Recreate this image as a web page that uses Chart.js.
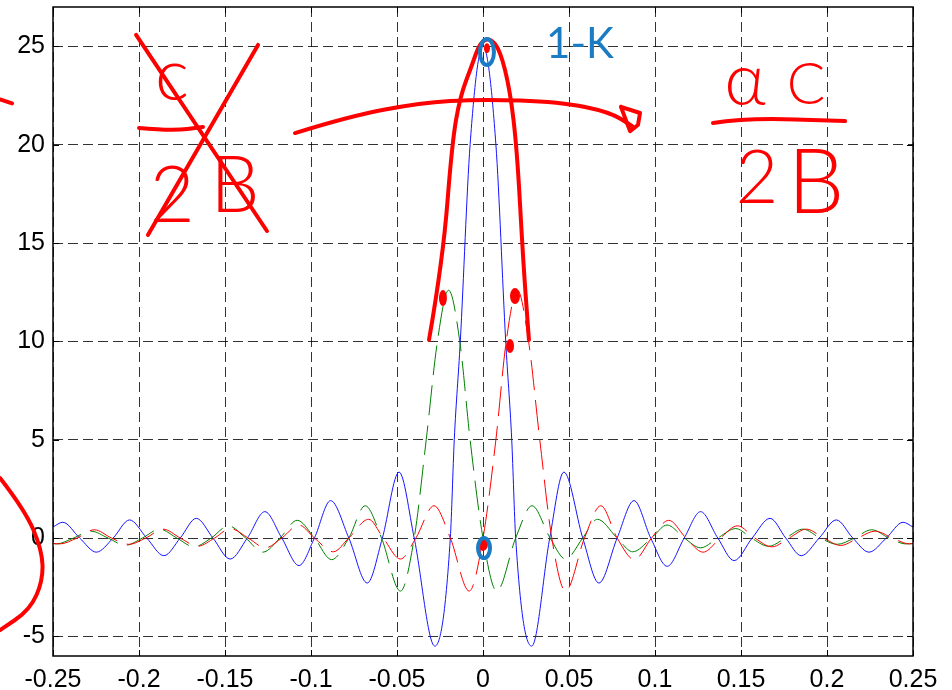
<!DOCTYPE html>
<html>
<head>
<meta charset="utf-8">
<script src="https://cdn.jsdelivr.net/npm/chart.js@4.4.1/dist/chart.umd.min.js"></script>
<style>
html, body { margin: 0; padding: 0; background: #fff; }
</style>
</head>
<body>
<canvas id="myChart" width="952" height="690"></canvas>
<script>
// tick positions
const xTicks = [-0.25, -0.2, -0.15, -0.1, -0.05, 0, 0.05, 0.1, 0.15, 0.2, 0.25];
const yTicks = [-5, 0, 5, 10, 15, 20, 25];

// blue solid curve
const blueX = [-0.25, -0.2443, -0.2345, -0.2248, -0.215, -0.2055, -0.1955, -0.1855, -0.176, -0.1667,
    -0.157, -0.147, -0.137, -0.1268, -0.117, -0.107, -0.098, -0.0886, -0.078, -0.0673,
    -0.0585, -0.0488, -0.04, -0.028, -0.019, -0.0167, -0.0132, -0.0075, 0,
    0.0075, 0.0132, 0.0167, 0.019, 0.0283, 0.0388, 0.047, 0.058, 0.0674, 0.078,
    0.0878, 0.0975, 0.1071, 0.117, 0.1265, 0.1365, 0.146, 0.1565, 0.1669, 0.176,
    0.185, 0.1955, 0.2054, 0.215, 0.2244, 0.2345, 0.2442, 0.25];
const blueY = [0.56, 0.8, 0, -0.72, 0, 0.92, 0, -0.9, 0, 1.0,
    0, -1.07, 0, 1.34, 0, -1.4, 0, 1.9, 0, -2.29,
    0, 3.35, 0, -5.5, 0, 5, 10, 20, 25,
    20, 10, 5, 0, -5.5, 0, 3.35, 0, -2.29, 0,
    1.9, 0, -1.44, 0, 1.34, 0, -1.15, 0, 1.0, 0,
    -0.9, 0, 0.92, 0, -0.72, 0, 0.8, 0.56];

// green dashed curve
const greenX = [-0.25, -0.248, -0.238, -0.228, -0.218, -0.208, -0.198, -0.188, -0.178, -0.168,
    -0.158, -0.148, -0.138, -0.128, -0.118, -0.108, -0.098, -0.088, -0.078, -0.0685,
    -0.059, -0.048, -0.04, -0.033, -0.0265, -0.02, -0.0135, -0.0075, 0, 0.008,
    0.019, 0.0285, 0.039, 0.048, 0.058, 0.0665, 0.078, 0.087, 0.098, 0.107,
    0.117, 0.1265, 0.1365, 0.147, 0.156, 0.166, 0.176, 0.186, 0.196, 0.206,
    0.216, 0.226, 0.236, 0.246, 0.25];
const greenY = [-0.28, -0.3, 0, 0.35, 0, -0.38, 0, 0.45, 0, -0.45,
    0, 0.62, 0, -0.72, 0, 0.9, 0, -1.1, 0, 1.64,
    0, -2.7, 0, 5, 10, 12.6, 10, 5, 0, -2.7,
    0, 1.64, 0, -1.07, 0, 0.95, 0, -0.7, 0, 0.66,
    0, -0.5, 0, 0.48, 0, -0.42, 0, 0.45, 0, -0.32,
    0, 0.42, 0, -0.3, -0.28];

// red dashed curve
const redX = [-0.25, -0.246, -0.236, -0.226, -0.216, -0.206, -0.196, -0.186, -0.176, -0.166,
    -0.156, -0.147, -0.1365, -0.1265, -0.117, -0.107, -0.098, -0.087, -0.078, -0.0665,
    -0.058, -0.048, -0.039, -0.0285, -0.019, -0.008, 0, 0.0075, 0.0135, 0.02,
    0.0265, 0.033, 0.04, 0.048, 0.059, 0.0685, 0.078, 0.088, 0.098, 0.108,
    0.118, 0.128, 0.138, 0.148, 0.158, 0.168, 0.178, 0.188, 0.198, 0.208,
    0.218, 0.228, 0.238, 0.248, 0.25];
const redY = [-0.28, -0.3, 0, 0.42, 0, -0.32, 0, 0.45, 0, -0.42,
    0, 0.48, 0, -0.5, 0, 0.66, 0, -0.7, 0, 0.95,
    0, -1.07, 0, 1.64, 0, -2.7, 0, 5, 10, 12.6,
    10, 5, 0, -2.7, 0, 1.64, 0, -1.1, 0, 0.9,
    0, -0.72, 0, 0.62, 0, -0.45, 0, 0.45, 0, -0.38,
    0, 0.35, 0, -0.3, -0.28];

// hand-drawn ink, in data units
const inkEnvelope = [[-0.0314, 10.07], [-0.0233, 14.14], [-0.018, 20.08], [-0.0134, 22.42], [-0.0064, 24.05],
    [-0.0017, 25.22], [0.0041, 25.42], [0.0099, 24.81], [0.0157, 22.78], [0.0198, 19.73], [0.0233, 14.14], [0.0267, 10.07]];
const inkArrow = [[-0.1093, 20.59], [-0.0773, 21.46], [-0.0366, 22.12], [-0.0017, 22.32], [0.0448, 22.17], [0.0738, 21.66], [0.0866, 20.95]];
const inkArrowHead = [[0.0802, 21.92], [0.0913, 21.61], [0.0901, 21.0], [0.0855, 20.69], [0.0802, 21.92]];
const inkCross1 = [[-0.2017, 25.58], [-0.1256, 15.61]];
const inkCross2 = [[-0.1308, 25.07], [-0.1948, 15.41]];
const inkBarLeft = [[-0.2, 20.85], [-0.181, 20.7], [-0.1628, 20.9]];
const inkBarRight = [[0.1337, 21.1], [0.1523, 21.36], [0.2105, 21.2]];
const inkCircle = [[-0.2808, 3.05], [-0.2663, 1.42], [-0.2564, -0.61], [-0.2558, -2.14], [-0.2634, -3.66], [-0.2808, -4.68]];
const inkDash = [[-0.2808, 22.3], [-0.2738, 22.1]];
const inkTexts = [
    { t: "c", at: [-0.1808, 22.27], size: 72, weight: 300, color: "#ff0000" },
    { t: "2", at: [-0.1808, 16.07], size: 78, weight: 300, color: "#ff0000" },
    { t: "B", at: [-0.1442, 16.58], size: 78, weight: 300, color: "#ff0000" },
    { t: "α", at: [0.1523, 22.02], size: 72, weight: 300, color: "#ff0000" },
    { t: "C", at: [0.1878, 22.07], size: 57, weight: 300, color: "#ff0000" },
    { t: "2", at: [0.1593, 17.03], size: 74, weight: 300, color: "#ff0000" },
    { t: "B", at: [0.1936, 16.53], size: 90, weight: 300, color: "#ff0000" },
    { t: "1-K", at: [0.0564, 24.41], size: 42, weight: 400, color: "#1b7cc4" }
];

const toPoints = (xs, ys) => xs.map((v, i) => ({ x: v, y: ys[i] }));

const framePlugin = {
    id: "frame",
    afterDatasetsDraw(chart) {
        const { ctx, chartArea: a, scales: { x, y } } = chart;
        ctx.save();
        ctx.strokeStyle = "#000";
        ctx.lineWidth = 1.5;
        ctx.strokeRect(a.left, a.top, a.right - a.left, a.bottom - a.top);
        ctx.lineWidth = 1;
        ctx.beginPath();
        xTicks.forEach(v => {
            const px = Math.round(x.getPixelForValue(v)) + 0.5;
            ctx.moveTo(px, a.bottom); ctx.lineTo(px, a.bottom - 6);
            ctx.moveTo(px, a.top); ctx.lineTo(px, a.top + 6);
        });
        yTicks.forEach(v => {
            const py = Math.round(y.getPixelForValue(v)) + 0.5;
            ctx.moveTo(a.left, py); ctx.lineTo(a.left + 6, py);
            ctx.moveTo(a.right, py); ctx.lineTo(a.right - 6, py);
        });
        ctx.stroke();
        ctx.restore();
    }
};

const inkPlugin = {
    id: "ink",
    afterDraw(chart) {
        const { ctx, scales: { x, y } } = chart;
        const P = p => [x.getPixelForValue(p[0]), y.getPixelForValue(p[1])];
        const smooth = (pts, color, w) => {
            const p = pts.map(P);
            ctx.strokeStyle = color;
            ctx.lineWidth = w;
            ctx.beginPath();
            ctx.moveTo(p[0][0], p[0][1]);
            for (let i = 1; i < p.length - 1; i++) {
                ctx.quadraticCurveTo(p[i][0], p[i][1], (p[i][0] + p[i + 1][0]) / 2, (p[i][1] + p[i + 1][1]) / 2);
            }
            ctx.lineTo(p[p.length - 1][0], p[p.length - 1][1]);
            ctx.stroke();
        };
        const poly = (pts, color, w) => {
            const p = pts.map(P);
            ctx.strokeStyle = color;
            ctx.lineWidth = w;
            ctx.beginPath();
            p.forEach((q, i) => i ? ctx.lineTo(q[0], q[1]) : ctx.moveTo(q[0], q[1]));
            ctx.stroke();
        };
        const blob = (at, rx, ry, color, fill) => {
            const c = P(at);
            ctx.beginPath();
            ctx.ellipse(c[0], c[1], rx, ry, 0, 0, Math.PI * 2);
            if (fill) { ctx.fillStyle = color; ctx.fill(); }
            else { ctx.strokeStyle = color; ctx.lineWidth = 4; ctx.stroke(); }
        };
        ctx.save();
        ctx.lineCap = "round";
        ctx.lineJoin = "round";
        const red = "#ff0000";
        smooth(inkEnvelope, red, 4);
        smooth(inkArrow, red, 4);
        poly(inkArrowHead, red, 4);
        poly(inkCross1, red, 4);
        poly(inkCross2, red, 4);
        smooth(inkBarLeft, red, 4);
        smooth(inkBarRight, red, 4);
        smooth(inkCircle, red, 4);
        poly(inkDash, red, 4);
        blob([-0.0233, 12.2], 4, 8, red, true);
        blob([0.0186, 12.3], 5, 8, red, true);
        blob([0.0157, 9.76], 4, 7, red, true);
        blob([0, -0.3], 5, 7, red, true);
        blob([0.0006, -0.51], 6, 10, "#1b7cc4", false);
        blob([0.0023, 24.71], 7, 13, "#1b7cc4", false);
        blob([0.0023, 24.9], 3, 5, red, true);
        ctx.textAlign = "center";
        ctx.textBaseline = "alphabetic";
        inkTexts.forEach(o => {
            const c = P(o.at);
            ctx.font = o.weight + " " + o.size + "px Lato, 'DejaVu Sans', sans-serif";
            ctx.fillStyle = o.color;
            ctx.fillText(o.t, c[0], c[1]);
        });
        ctx.restore();
    }
};

const ctx = document.getElementById("myChart").getContext("2d");
new Chart(ctx, {
    type: "line",
    data: {
        datasets: [{
            label: "blue",
            data: toPoints(blueX, blueY),
            borderColor: "rgb(20, 20, 255)",
            borderWidth: 1,
            order: 3
        }, {
            label: "green",
            data: toPoints(greenX, greenY),
            borderColor: "rgb(0, 128, 0)",
            borderWidth: 1,
            borderDash: [30, 10],
            order: 2
        }, {
            label: "red",
            data: toPoints(redX, redY),
            borderColor: "rgb(255, 0, 0)",
            borderWidth: 1,
            borderDash: [30, 10],
            order: 1
        }]
    },
    options: {
        responsive: false,
        animation: false,
        events: [],
        layout: { padding: { left: 0, right: 39, top: 7, bottom: 0 } },
        elements: {
            point: { radius: 0 },
            line: { cubicInterpolationMode: "monotone", fill: false }
        },
        plugins: { legend: { display: false }, tooltip: { enabled: false } },
        scales: {
            x: {
                type: "linear",
                min: -0.25,
                max: 0.25,
                afterBuildTicks: s => { s.ticks = xTicks.map(v => ({ value: v })); },
                afterFit: s => { s.height = 34; s.paddingLeft = 0; s.paddingRight = 0; },
                ticks: {
                    color: "#000",
                    padding: 9,
                    maxRotation: 0,
                    autoSkip: false,
                    font: { family: "'Liberation Sans', Arial, sans-serif", size: 25 },
                    callback: v => String(+v.toFixed(2))
                },
                grid: { color: "rgba(0,0,0,0.8)", lineWidth: 1, drawTicks: false },
                border: { display: false, dash: [10, 5] }
            },
            y: {
                type: "linear",
                min: -6,
                max: 27,
                afterBuildTicks: s => { s.ticks = yTicks.map(v => ({ value: v })); },
                afterFit: s => { s.width = 53; s.paddingTop = 0; s.paddingBottom = 0; },
                ticks: {
                    color: "#000",
                    padding: 8,
                    autoSkip: false,
                    font: { family: "'Liberation Sans', Arial, sans-serif", size: 25 },
                    callback: v => String(v)
                },
                grid: { color: "rgba(0,0,0,0.8)", lineWidth: 1, drawTicks: false },
                border: { display: false, dash: [10, 5] }
            }
        }
    },
    plugins: [framePlugin, inkPlugin]
});
</script>
</body>
</html>
